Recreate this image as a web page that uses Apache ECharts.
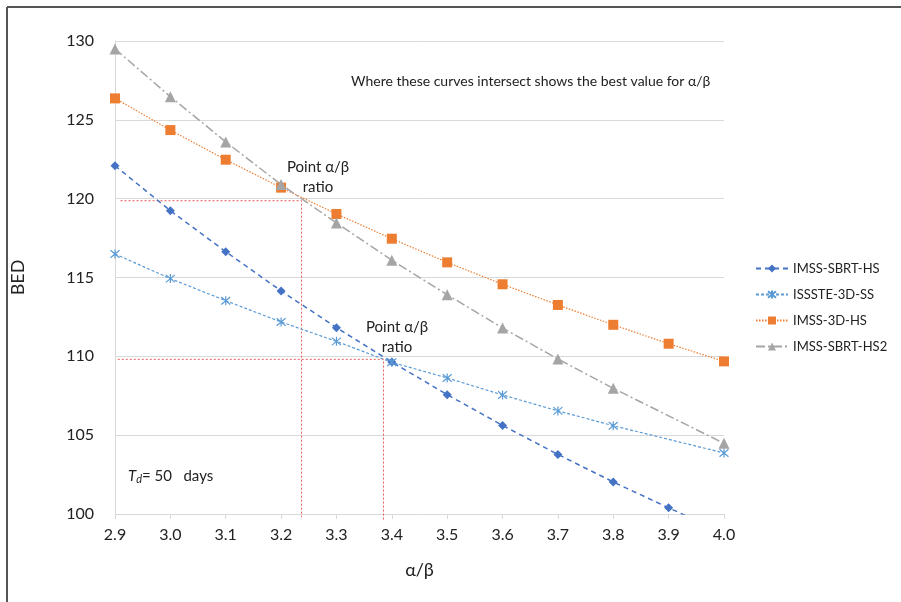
<!DOCTYPE html>
<html>
<head>
<meta charset="utf-8">
<script src="https://cdn.jsdelivr.net/npm/echarts@6/dist/echarts.min.js"></script>
<style>html,body{margin:0;padding:0;background:#fff;}#c{width:901px;height:602px;}</style>
</head>
<body>
<div id="c"></div>
<script>
var alphaBeta = [2.9, 3.0, 3.1, 3.2, 3.3, 3.4, 3.5, 3.6, 3.7, 3.8, 3.9, 4.0];
var sbrtHS   = [122.09, 119.24, 116.64, 114.15, 111.82, 109.64, 107.57, 105.62, 103.78, 102.03, 100.39, 98.8];
var issste   = [116.49, 114.93, 113.53, 112.18, 110.95, 109.62, 108.63, 107.55, 106.54, 105.6, null, 103.87];
var imss3D   = [126.36, 124.35, 122.47, 120.7, 119.03, 117.46, 115.96, 114.57, 113.26, 112.0, 110.8, 109.68];
var sbrtHS2  = [129.5, 126.47, 123.6, 120.9, 118.46, 116.1, 113.91, 111.8, 109.83, 107.97, null, 104.48];
var seriesNames = ['IMSS-SBRT-HS', 'ISSSTE-3D-SS', 'IMSS-3D-HS', 'IMSS-SBRT-HS2'];
// guide lines marking the intersection points
var guide1 = [[2.91, 119.87], [3.237, 119.87], [3.237, 99.8]];
var guide2 = [[2.905, 109.81], [3.385, 109.81], [3.385, 99.6]];

function pairs(vals) { return alphaBeta.map(function (x, i) { return [x, vals[i]]; }); }

var FONT = 'Lato';
var chart = echarts.init(document.getElementById('c'));
var asterisk = 'path://M0,0L10,10M10,0L0,10M5,-1L5,11';

chart.setOption({
  animation: false,
  textStyle: { fontFamily: FONT },
  grid: { left: 115, right: 177, top: 41, bottom: 88 },
  legend: {
    orient: 'vertical', left: 755, top: 262, padding: 0, itemGap: 13, itemWidth: 32, itemHeight: 10,
    textStyle: { fontSize: 13, color: '#222', fontFamily: FONT },
    data: seriesNames
  },
  xAxis: {
    type: 'value', min: 2.9, max: 4.0, interval: 0.1,
    name: 'α/β', nameLocation: 'middle', nameGap: 47,
    nameTextStyle: { fontSize: 18, color: '#222' },
    axisLine: { show: true, lineStyle: { color: '#d9d9d9' } },
    axisTick: { show: true, length: 5, lineStyle: { color: '#d9d9d9' } },
    splitLine: { show: false },
    axisLabel: { fontSize: 16, color: '#222', margin: 13, formatter: function (v) { return v.toFixed(1); } }
  },
  yAxis: {
    type: 'value', min: 100, max: 130, interval: 5,
    name: 'BED', nameLocation: 'middle', nameGap: 88, nameRotate: 90,
    nameTextStyle: { fontSize: 18, color: '#222' },
    axisLine: { show: true, lineStyle: { color: '#d9d9d9' } },
    axisTick: { show: false },
    splitLine: { lineStyle: { color: '#d9d9d9' } },
    axisLabel: { fontSize: 16, color: '#222', margin: 21 }
  },
  series: [
    { name: 'guide1', type: 'line', data: guide1, symbol: 'none', silent: true, clip: false,
      lineStyle: { color: '#f05a5a', width: 1, type: [2, 2] }, z: 1 },
    { name: 'guide2', type: 'line', data: guide2, symbol: 'none', silent: true, clip: false,
      lineStyle: { color: '#f05a5a', width: 1, type: [2, 2] }, z: 1 },
    { name: seriesNames[0], type: 'line', data: pairs(sbrtHS), connectNulls: true,
      symbol: 'diamond', symbolSize: 9, color: '#4472C4',
      itemStyle: { color: '#4472C4' },
      lineStyle: { color: '#4472C4', width: 1.5, type: [5, 4] } },
    { name: seriesNames[1], type: 'line', data: pairs(issste), connectNulls: true,
      symbol: asterisk, symbolSize: 9, color: '#5B9BD5',
      itemStyle: { color: '#5B9BD5', borderColor: '#5B9BD5', borderWidth: 1.2 },
      lineStyle: { color: '#5B9BD5', width: 1.2, type: [3, 2] } },
    { name: seriesNames[2], type: 'line', data: pairs(imss3D), connectNulls: true,
      symbol: 'rect', symbolSize: 10, color: '#ED7D31',
      itemStyle: { color: '#ED7D31' },
      lineStyle: { color: '#ED7D31', width: 1.2, type: [1.5, 1.5] } },
    { name: seriesNames[3], type: 'line', data: pairs(sbrtHS2), connectNulls: true,
      symbol: 'triangle', symbolSize: 11, color: '#A5A5A5',
      itemStyle: { color: '#A5A5A5' },
      lineStyle: { color: '#A5A5A5', width: 1.5, type: [9, 3, 2, 3] } }
  ],
  graphic: [
    { type: 'line', shape: { x1: 7, y1: 7, x2: 901, y2: 7 }, style: { stroke: '#555', lineWidth: 2 } },
    { type: 'line', shape: { x1: 7, y1: 7, x2: 7, y2: 602 }, style: { stroke: '#555', lineWidth: 2 } },
    { type: 'text', left: 351, top: 74, style: { text: 'Where these curves intersect shows the best value for α/β', font: '14px "' + FONT + '"', fill: '#222' } },
    { type: 'text', x: 318, y: 157, style: { text: 'Point α/β\nratio', font: '15px "' + FONT + '"', fill: '#222', align: 'center', lineHeight: 20 } },
    { type: 'text', x: 397, y: 317, style: { text: 'Point α/β\nratio', font: '15px "' + FONT + '"', fill: '#222', align: 'center', lineHeight: 20 } },
    { type: 'text', left: 128, top: 469, style: {
      text: '{t|T}{d|d}{n|= 50   days}',
      rich: {
        t: { fontSize: 15, fontStyle: 'italic', fill: '#222', fontFamily: FONT },
        d: { fontSize: 11, fontStyle: 'italic', fill: '#222', fontFamily: FONT, verticalAlign: 'bottom', padding: [6, 0, 0, 0] },
        n: { fontSize: 15, fill: '#222', fontFamily: FONT }
      } } }
  ]
});
</script>
</body>
</html>
